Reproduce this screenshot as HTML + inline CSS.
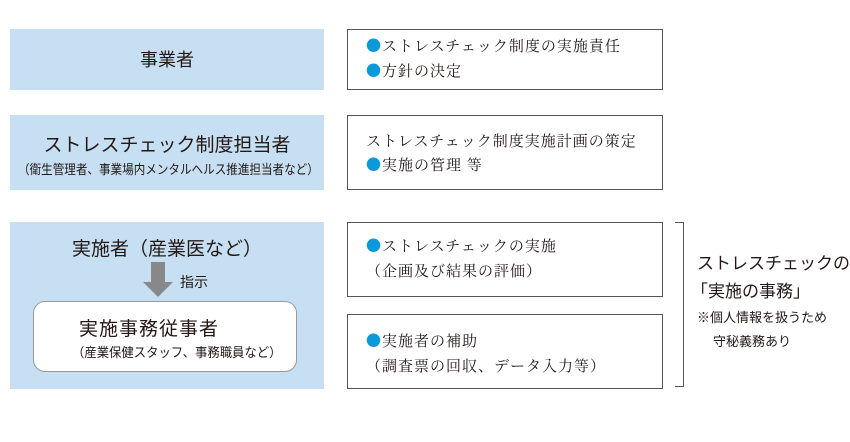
<!DOCTYPE html>
<html><head><meta charset="utf-8"><style>
body{margin:0;width:850px;height:442px;background:#fff;position:relative;overflow:hidden;font-family:"Noto Sans CJK JP",sans-serif;color:#231815}
.b{position:absolute;background:#c7dff2}
.r{position:absolute;border:1.5px solid #555;box-sizing:border-box;background:#fff}
.t{position:absolute;white-space:nowrap;line-height:1}
.s{font-family:"Noto Serif CJK JP",serif;font-size:15px;letter-spacing:1px}
.d{color:#0a9ad9;font-family:"Noto Sans CJK JP",sans-serif}
</style></head><body>
<div class="b" style="left:10px;top:29px;width:314px;height:61px"></div>
<div class="b" style="left:10px;top:115px;width:314px;height:75px"></div>
<div class="b" style="left:10px;top:222px;width:314px;height:167px"></div>

<div class="t" style="left:0;width:334px;text-align:center;top:50px;font-size:18px">事業者</div>
<div class="t" style="left:0;width:334px;text-align:center;top:134px;font-size:19px">ストレスチェック制度担当者</div>
<div class="t" style="left:18px;top:162px;font-size:13px;transform:scaleX(0.89);transform-origin:left">（衛生管理者、事業場内メンタルヘルス推進担当者など）</div>
<div class="t" style="left:0;width:334px;text-align:center;top:238px;font-size:19px">実施者（産業医など）</div>
<svg style="position:absolute;left:142px;top:262px" width="32" height="36"><polygon points="9,0 23,0 23,20 31,20 16,35 1,20 9,20" fill="#888"/></svg>
<div class="t" style="left:180px;top:275px;font-size:14px">指示</div>
<div style="position:absolute;left:33px;top:301px;width:264px;height:71px;background:#fff;border:1px solid #999;border-radius:12px;box-sizing:border-box"></div>
<div class="t" style="left:79px;top:318px;font-size:19px;letter-spacing:1px">実施事務従事者</div>
<div class="t" style="left:72px;top:345px;font-size:13px;transform:scaleX(0.95);transform-origin:left">（産業保健スタッフ、事務職員など）</div>

<div class="r" style="left:347px;top:29px;width:316px;height:61px"></div>
<div class="r" style="left:347px;top:115px;width:316px;height:75px"></div>
<div class="r" style="left:347px;top:222px;width:316px;height:75px"></div>
<div class="r" style="left:347px;top:314px;width:316px;height:75px"></div>

<div class="t s" style="left:366px;top:38px"><span class="d">●</span>ストレスチェック制度の実施責任</div>
<div class="t s" style="left:366px;top:63px"><span class="d">●</span>方針の決定</div>
<div class="t s" style="left:366px;top:133px">ストレスチェック制度実施計画の策定</div>
<div class="t s" style="left:366px;top:157px"><span class="d">●</span>実施の管理 等</div>
<div class="t s" style="left:366px;top:238px"><span class="d">●</span>ストレスチェックの実施</div>
<div class="t s" style="left:366px;top:263px">（企画及び結果の評価）</div>
<div class="t s" style="left:366px;top:333px"><span class="d">●</span>実施者の補助</div>
<div class="t s" style="left:366px;top:358px">（調査票の回収、データ入力等）</div>

<div style="position:absolute;left:675px;top:222px;width:9px;height:165px;border:1.5px solid #555;border-left:none;box-sizing:border-box"></div>
<div class="t" style="left:697px;top:253px;font-size:17px">ストレスチェックの</div>
<div class="t" style="left:691px;top:281px;font-size:17px">「実施の事務」</div>
<div class="t" style="left:697px;top:310px;font-size:13px">※個人情報を扱うため</div>
<div class="t" style="left:713px;top:334px;font-size:13px">守秘義務あり</div>
</body></html>
